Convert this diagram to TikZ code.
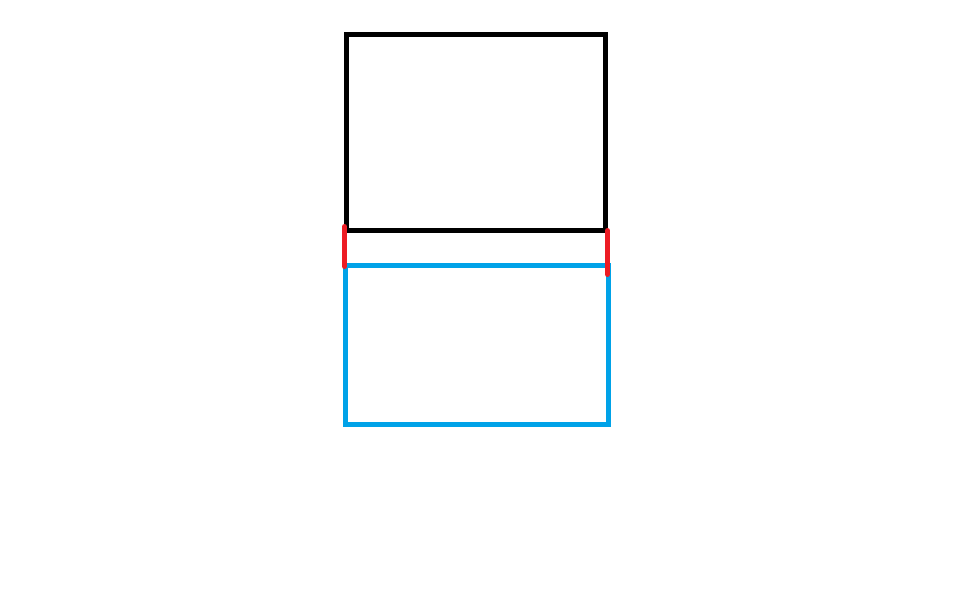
\documentclass[tikz,border=0pt]{standalone}
\definecolor{paintblue}{HTML}{00A2E8}
\definecolor{paintred}{HTML}{ED1C24}
\begin{document}
\begin{tikzpicture}[x=1pt,y=-1pt,
  blackbox/.style={draw=black,line width=5pt},
  bluebox/.style={draw=paintblue,line width=5pt},
  redlink/.style={draw=paintred,line width=5pt,line cap=round}]
\useasboundingbox[fill=white] (0,0) rectangle (976,604);
\draw[blackbox] (346.5,35) rectangle (605.5,230);
\draw[bluebox] (345.5,265.3) rectangle (608.5,424.3);
\coordinate (l1) at (344.5,226.5);
\coordinate (l2) at (344.5,266.5);
\coordinate (r1) at (607.5,230.5);
\coordinate (r2) at (607.5,274.5);
\draw[redlink] (l1) -- (l2);
\draw[redlink] (r1) -- (r2);
\end{tikzpicture}
\end{document}
